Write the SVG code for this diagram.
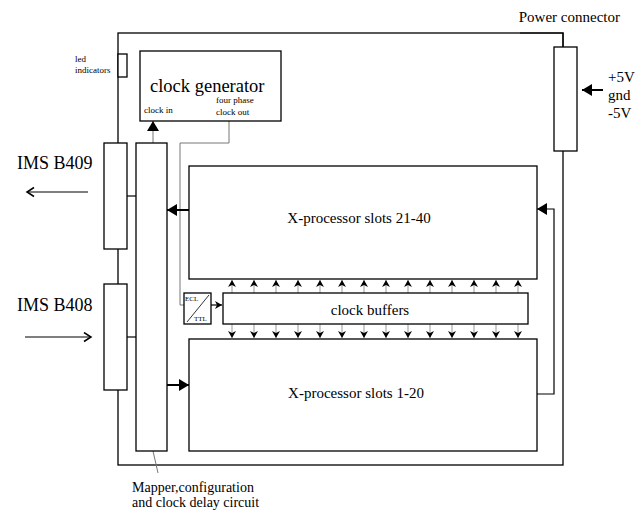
<svg xmlns="http://www.w3.org/2000/svg" width="635" height="512" viewBox="0 0 635 512" font-family="'Liberation Serif', 'Times New Roman', serif">
<style>
text{font-family:'Liberation Serif','Times New Roman',serif;fill:#000}
.box{fill:#fff;stroke:#000;stroke-width:1.3}
.thin{fill:none;stroke:#777;stroke-width:1}
.wire{fill:none;stroke:#000;stroke-width:1.2}
.bold{fill:none;stroke:#000;stroke-width:2}
.tick{stroke:#999;stroke-width:1;fill:none}
</style>
<defs>
<marker id="tri" markerUnits="userSpaceOnUse" markerWidth="11" markerHeight="13" refX="10" refY="6" orient="auto" viewBox="0 0 11 13">
<path d="M0,0 L10,6 L0,12 z" fill="#000"/>
</marker>
<marker id="chev" markerUnits="userSpaceOnUse" markerWidth="8" markerHeight="9" refX="7" refY="4" orient="auto" viewBox="0 0 8 9">
<path d="M0,0 L7,4 L0,8 L2,4 z" fill="#000"/>
</marker>
<marker id="open" markerUnits="userSpaceOnUse" markerWidth="10" markerHeight="12" refX="8" refY="5.5" orient="auto" viewBox="0 0 10 12">
<path d="M1,1 L8,5.5 L1,10" fill="none" stroke="#000" stroke-width="1.5"/>
</marker>
</defs>

<g id="board"><rect x="118" y="33" width="445" height="432" fill="none" stroke="#000" stroke-width="1.3"/></g>

<g id="connectors">
<line class="thin" x1="153" y1="143" x2="153" y2="121" marker-end="url(#tri)"/>
<polyline class="thin" points="229,121 229,143 180,143 180,305 184,305"/>
<line class="wire" x1="211" y1="305" x2="222" y2="305" marker-end="url(#chev)"/>
<line class="bold" x1="189" y1="210" x2="167" y2="210" marker-end="url(#tri)"/>
<line class="bold" x1="167" y1="385" x2="189" y2="385" marker-end="url(#tri)"/>
<polyline class="wire" points="537,394 554,394 554,209 537,209" marker-end="url(#tri)"/>
<line class="bold" x1="603" y1="90" x2="582" y2="90" marker-end="url(#tri)"/>
<line class="wire" x1="88" y1="192" x2="27" y2="192" marker-end="url(#open)"/>
<line class="wire" x1="25" y1="337" x2="91" y2="337" marker-end="url(#open)"/>
<line class="wire" x1="127" y1="196" x2="136" y2="196"/>
<line class="wire" x1="127" y1="337" x2="136" y2="337"/>
<line class="thin" x1="153" y1="451" x2="158" y2="473"/>
<g id="bus-up">
<line class="tick" x1="232" y1="293" x2="232" y2="280" marker-end="url(#chev)"/>
<line class="tick" x1="254" y1="293" x2="254" y2="280" marker-end="url(#chev)"/>
<line class="tick" x1="276" y1="293" x2="276" y2="280" marker-end="url(#chev)"/>
<line class="tick" x1="298" y1="293" x2="298" y2="280" marker-end="url(#chev)"/>
<line class="tick" x1="320" y1="293" x2="320" y2="280" marker-end="url(#chev)"/>
<line class="tick" x1="342" y1="293" x2="342" y2="280" marker-end="url(#chev)"/>
<line class="tick" x1="364" y1="293" x2="364" y2="280" marker-end="url(#chev)"/>
<line class="tick" x1="386" y1="293" x2="386" y2="280" marker-end="url(#chev)"/>
<line class="tick" x1="408" y1="293" x2="408" y2="280" marker-end="url(#chev)"/>
<line class="tick" x1="430" y1="293" x2="430" y2="280" marker-end="url(#chev)"/>
<line class="tick" x1="452" y1="293" x2="452" y2="280" marker-end="url(#chev)"/>
<line class="tick" x1="474" y1="293" x2="474" y2="280" marker-end="url(#chev)"/>
<line class="tick" x1="496" y1="293" x2="496" y2="280" marker-end="url(#chev)"/>
<line class="tick" x1="518" y1="293" x2="518" y2="280" marker-end="url(#chev)"/>
</g>
<g id="bus-down">
<line class="tick" x1="232" y1="324" x2="232" y2="338" marker-end="url(#chev)"/>
<line class="tick" x1="254" y1="324" x2="254" y2="338" marker-end="url(#chev)"/>
<line class="tick" x1="276" y1="324" x2="276" y2="338" marker-end="url(#chev)"/>
<line class="tick" x1="298" y1="324" x2="298" y2="338" marker-end="url(#chev)"/>
<line class="tick" x1="320" y1="324" x2="320" y2="338" marker-end="url(#chev)"/>
<line class="tick" x1="342" y1="324" x2="342" y2="338" marker-end="url(#chev)"/>
<line class="tick" x1="364" y1="324" x2="364" y2="338" marker-end="url(#chev)"/>
<line class="tick" x1="386" y1="324" x2="386" y2="338" marker-end="url(#chev)"/>
<line class="tick" x1="408" y1="324" x2="408" y2="338" marker-end="url(#chev)"/>
<line class="tick" x1="430" y1="324" x2="430" y2="338" marker-end="url(#chev)"/>
<line class="tick" x1="452" y1="324" x2="452" y2="338" marker-end="url(#chev)"/>
<line class="tick" x1="474" y1="324" x2="474" y2="338" marker-end="url(#chev)"/>
<line class="tick" x1="496" y1="324" x2="496" y2="338" marker-end="url(#chev)"/>
<line class="tick" x1="518" y1="324" x2="518" y2="338" marker-end="url(#chev)"/>
</g>
</g>

<g id="led">
<rect class="box" x="118" y="54" width="9" height="23"/>
<text x="75" y="62" font-size="9">led</text>
<text x="75" y="73" font-size="9">indicators</text>
</g>

<g id="clockgen">
<rect class="box" x="140" y="51" width="141" height="70"/>
<text x="150" y="92" font-size="18.5">clock generator</text>
<text x="144" y="113" font-size="9">clock in</text>
<text x="216" y="103" font-size="9">four phase</text>
<text x="216" y="115" font-size="9">clock out</text>
</g>

<g id="b409">
<rect class="box" x="104" y="143" width="23" height="106"/>
<text x="17" y="169" font-size="18">IMS B409</text>
</g>

<g id="b408">
<rect class="box" x="104" y="284" width="23" height="106"/>
<text x="17" y="311" font-size="18">IMS B408</text>
</g>

<g id="mapper">
<rect class="box" x="136" y="143" width="31" height="308"/>
<text x="132" y="492" font-size="14">Mapper,configuration</text>
<text x="132" y="507" font-size="14">and clock delay circuit</text>
</g>

<g id="slots21-40">
<rect class="box" x="189" y="166" width="348" height="113"/>
<text x="359" y="223" font-size="15" text-anchor="middle">X-processor slots 21-40</text>
</g>

<g id="ecl-ttl">
<rect class="box" x="184" y="293" width="27" height="31"/>
<line x1="187" y1="322" x2="209" y2="295" stroke="#000" stroke-width="0.8"/>
<text x="185" y="301" font-size="7">ECL</text>
<text x="194" y="321" font-size="7">TTL</text>
</g>

<g id="buffers">
<rect class="box" x="223" y="293" width="305" height="31"/>
<text x="370" y="315" font-size="15" text-anchor="middle">clock buffers</text>
</g>

<g id="slots1-20">
<rect class="box" x="189" y="339" width="348" height="112"/>
<text x="356" y="398" font-size="15" text-anchor="middle">X-processor slots 1-20</text>
</g>

<g id="power">
<polyline class="wire" points="520,33 563,33 563,47"/>
<rect class="box" x="554" y="47" width="23" height="104"/>
<text x="620" y="22" font-size="15" text-anchor="end">Power connector</text>
<text x="608" y="82" font-size="15">+5V</text>
<text x="608" y="100" font-size="15">gnd</text>
<text x="608" y="118" font-size="15">-5V</text>
</g>
</svg>
